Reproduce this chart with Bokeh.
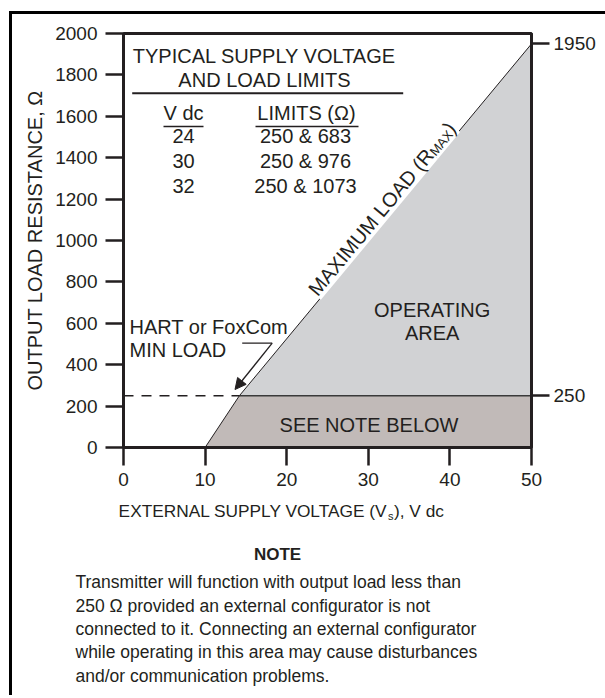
import math
from bokeh.plotting import figure
from bokeh.layouts import column, row
from bokeh.models import Range1d, LinearAxis, FixedTicker, Label, Arrow, NormalHead, Spacer
from bokeh.embed import file_html
from bokeh.resources import INLINE

try:
    from bokeh.models import InlineStyleSheet
except Exception:
    InlineStyleSheet = None

# ---------------- data ----------------
x_ticks = [0, 10, 20, 30, 40, 50]
y_ticks = [0, 200, 400, 600, 800, 1000, 1200, 1400, 1600, 1800, 2000]
right_ticks = [250, 1950]
edge_v = [10, 14.2, 50]          # max-load boundary, supply voltage (V dc)
edge_r = [0, 250, 1950]          # max-load boundary, resistance (ohm)
min_load = 250
table_vdc = [24, 30, 32]
table_min = [250, 250, 250]
table_max = [683, 976, 1073]
note_lines = [
    "Transmitter will function with output load less than",
    "250 \u03a9 provided an external configurator is not",
    "connected to it. Connecting an external configurator",
    "while operating in this area may cause disturbances",
    "and/or communication problems.",
]

# ---------------- layout (page pixel geometry) ----------------
PAGE_W, PAGE_H = 605, 695
BX, BY, BW = 9, 11, 3                  # outer frame lines
CX, CY = BX + BW, BY + BW              # top-left of the chart canvas on the page
CW = PAGE_W - CX
CH = 484                               # chart canvas height
NH = PAGE_H - CY - CH                  # note canvas height
FL, FT, FW, FH = 123, 33, 408, 414     # plot frame on the page
X0, X1, Y0, Y1 = 0, 50, 0, 2000
FONT = "Liberation Sans"
INK = "#231f20"
BASE_SHIFT = 0.37   # alphabetic baseline correction (em)
CLIP = {"overflow": "hidden"}
NO_SCROLL_CSS = ("::-webkit-scrollbar { display: none; width: 0; height: 0; } "
                 ":host, * { scrollbar-width: none; }")

def no_scrollbars(model):
    if InlineStyleSheet is None:
        return
    try:
        model.stylesheets = list(model.stylesheets) + [InlineStyleSheet(css=NO_SCROLL_CSS)]
    except Exception:
        pass

def dx(px):
    return X0 + (px - FL) / FW * (X1 - X0)

def dy(py):
    return Y0 + (FT + FH - py) / FH * (Y1 - Y0)

def no_align(fig):
    if "frame_align" in fig.properties():
        fig.frame_align = False

p = figure(width=CW, height=CH, x_range=Range1d(X0, X1), y_range=Range1d(Y0, Y1),
           output_backend="svg", toolbar_location=None,
           min_border_left=FL - CX, min_border_right=CW - (FL - CX) - FW,
           min_border_top=FT - CY, min_border_bottom=CH - (FT - CY) - FH)
no_align(p)
p.xgrid.visible = False
p.ygrid.visible = False
p.outline_line_color = INK
p.outline_line_width = 3
p.background_fill_color = "white"
p.border_fill_color = "white"

def style_axis(ax, size="19px", standoff=6):
    ax.axis_line_width = 3
    ax.axis_line_color = INK
    ax.major_tick_out = 18
    ax.major_tick_in = 0
    ax.major_tick_line_width = 2.5
    ax.major_tick_line_color = INK
    ax.minor_tick_line_color = None
    ax.major_label_text_font = FONT
    ax.major_label_text_font_size = size
    ax.major_label_text_color = INK
    ax.major_label_standoff = standoff

style_axis(p.xaxis[0], standoff=7)
p.xaxis[0].ticker = FixedTicker(ticks=x_ticks)
style_axis(p.yaxis[0], standoff=8)
p.yaxis[0].ticker = FixedTicker(ticks=y_ticks)
p.yaxis[0].axis_label = "OUTPUT LOAD RESISTANCE, \u03a9"
p.yaxis[0].axis_label_text_font = FONT
p.yaxis[0].axis_label_text_font_size = "20px"
p.yaxis[0].axis_label_text_font_style = "normal"
p.yaxis[0].axis_label_text_color = INK
p.yaxis[0].axis_label_standoff = 6

rax = LinearAxis(ticker=FixedTicker(ticks=right_ticks))
style_axis(rax, standoff=4)
p.add_layout(rax, "right")

# ---------------- regions ----------------
lower_x = [edge_v[0], edge_v[1], edge_v[2], edge_v[2]]
lower_y = [edge_r[0], min_load, min_load, edge_r[0]]
upper_x = [edge_v[1], edge_v[2], edge_v[2]]
upper_y = [min_load, edge_r[2], min_load]
p.patch(lower_x, lower_y, fill_color="#c1bab8", line_color=None)
p.patch(upper_x, upper_y, fill_color="#d1d2d4", line_color=None)
p.line([edge_v[1], edge_v[2]], [min_load, min_load], line_color="#3a3a3a", line_width=1.3)
p.line(edge_v, edge_r, line_color=INK, line_width=1)
p.line([X0, edge_v[1]], [min_load, min_load], line_color=INK, line_width=1.5, line_dash="10 8")

def lab(fig, text, x, y_base, size=20, align="left", style="normal", page=False):
    y = y_base - BASE_SHIFT * size
    if page:
        l = Label(x=x, y=y, text=text)
    else:
        l = Label(x=dx(x), y=dy(y), text=text)
    l.text_font = FONT
    l.text_font_size = f"{size}px"
    l.text_color = INK
    l.text_align = align
    l.text_baseline = "alphabetic"
    l.text_font_style = style
    fig.add_layout(l)
    return l

# ---------------- table ----------------
lab(p, "TYPICAL SUPPLY VOLTAGE", 264, 63.3, align="center")
lab(p, "AND LOAD LIMITS", 264, 86.7, align="center")
p.line([dx(131.7), dx(402.7)], [dy(92.7), dy(92.7)], line_color=INK, line_width=2)
lab(p, "V dc", 183, 120, align="center")
lab(p, "LIMITS (\u03a9)", 306, 120, align="center")
p.line([dx(163), dx(203)], [dy(126), dy(126)], line_color=INK, line_width=1.5)
p.line([dx(255), dx(358)], [dy(126), dy(126)], line_color=INK, line_width=1.5)
row_base = [143.3, 168.3, 193.3]
for v, lo, hi, b in zip(table_vdc, table_min, table_max, row_base):
    lab(p, str(v), 183, b, align="center")
    lab(p, f"{lo} & {hi}", 305, b, align="center")

# ---------------- region texts ----------------
lab(p, "OPERATING", 431.7, 316.7, align="center")
lab(p, "AREA", 431.7, 340, align="center")
lab(p, "SEE NOTE BELOW", 368.5, 431.7, align="center")
lab(p, "HART or FoxCom", 129, 334)
lab(p, "MIN LOAD", 129, 357.3)
p.line([dx(241.7), dx(271.7)], [dy(342.7), dy(342.7)], line_color=INK, line_width=1.3)
p.add_layout(Arrow(end=NormalHead(size=11, fill_color=INK, line_color=INK),
                   x_start=dx(271.7), y_start=dy(342.7), x_end=dx(234.5), y_end=dy(389),
                   line_color=INK, line_width=1.3))

# ---------------- rotated max-load label ----------------
sx = FW / (X1 - X0)
sy = FH / (Y1 - Y0)
ang = math.atan2((edge_r[2] - edge_r[1]) * sy, (edge_v[2] - edge_v[1]) * sx)
r_anchor = 1400
v_anchor = edge_v[1] + (r_anchor - edge_r[1]) / (edge_r[2] - edge_r[1]) * (edge_v[2] - edge_v[1])
common = dict(text_font=FONT, text_color=INK, text_baseline="bottom", angle=ang,
              background_fill_color="white", x_offset=1, y_offset=-1)
p.add_layout(Label(x=v_anchor, y=r_anchor, text="MAXIMUM LOAD (R", text_font_size="20px",
                   text_align="right", **common))
p.add_layout(Label(x=v_anchor, y=r_anchor, text="MAX", text_font_size="13px",
                   text_align="left", **common))
d = 28
p.add_layout(Label(x=v_anchor + d * math.cos(ang) / sx, y=r_anchor + d * math.sin(ang) / sy,
                   text=")", text_font_size="20px", text_align="left", **common))

# ---------------- note panel (page pixel coordinates) ----------------
q = figure(width=CW, height=NH, x_range=Range1d(CX, PAGE_W),
           y_range=Range1d(CY + CH + NH, CY + CH),
           output_backend="svg", toolbar_location=None,
           x_axis_location=None, y_axis_location=None,
           min_border_left=0, min_border_right=0, min_border_top=0, min_border_bottom=0)
no_align(q)
q.xgrid.visible = False
q.ygrid.visible = False
q.outline_line_color = None
q.background_fill_color = "white"
q.border_fill_color = "white"

lab(q, "EXTERNAL SUPPLY VOLTAGE (V", 387, 516.7, size=17.3, align="right", page=True)
lab(q, "s", 387.5, 520, size=11, page=True)
lab(q, "), V dc", 393.5, 516.7, size=17.3, page=True)
lab(q, "NOTE", 277, 560, size=17, align="center", style="bold", page=True)
for i, t in enumerate(note_lines):
    lab(q, t, 75, 588.3 + i * 23.35, size=17.5, page=True)

# ---------------- outer frame lines + assembly ----------------
BLACK = {"background-color": "black"}
top_bar = Spacer(width=PAGE_W - BX, height=BW, styles=BLACK)
left_bar = Spacer(width=BW, height=PAGE_H - CY, styles=BLACK)
inner = column(p, q, styles=CLIP)
body = row(left_bar, inner, styles=CLIP)
framed = column(top_bar, body, styles=CLIP)
outer_row = row(Spacer(width=BX, height=PAGE_H - BY), framed, styles=CLIP)
layout = column(Spacer(width=PAGE_W, height=BY), outer_row, styles=CLIP)
for m in (p, q, inner, body, framed, outer_row, layout):
    no_scrollbars(m)

open("out.html", "w").write(file_html(layout, INLINE))
